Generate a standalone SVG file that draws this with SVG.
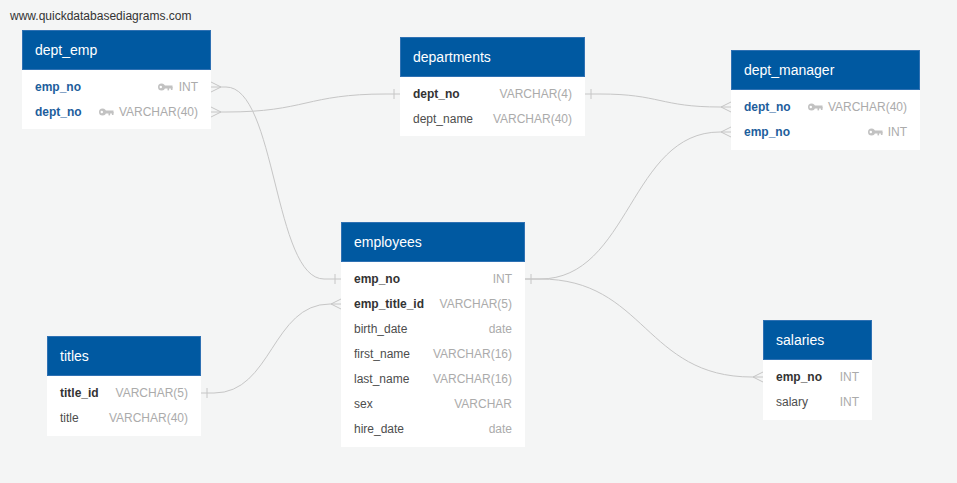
<svg xmlns="http://www.w3.org/2000/svg" width="957" height="483" viewBox="0 0 957 483">
  <style>
    text { font-family: "Liberation Sans", Arial, sans-serif; }
    .wm { font-size: 12px; fill: #333333; }
    .hd { fill: #0059a1; stroke: #2f71b3; stroke-width: 1; }
    .bd { fill: #ffffff; }
    .tt { font-size: 14px; fill: #ffffff; }
    .fk { font-size: 12px; font-weight: bold; fill: #1d5e9c; }
    .pk { font-size: 12px; font-weight: bold; fill: #333333; }
    .fd { font-size: 12px; fill: #4d4d4d; }
    .ty { font-size: 12px; fill: #ababab; text-anchor: end; }
    .ln { fill: none; stroke: #c6c6c6; stroke-width: 1; }
  </style>
  <defs>
    <!-- small key glyph drawn beside key columns -->
    <g id="key">
      <circle cx="3.5" cy="0" r="3.5" fill="#c2c2c2"/>
      <circle cx="2.8" cy="0" r="1.2" fill="#ffffff"/>
      <rect x="6" y="-1.5" width="8.5" height="3" fill="#c2c2c2"/>
      <rect x="9.5" y="0" width="1.6" height="3.4" fill="#c2c2c2"/>
      <rect x="12.9" y="0" width="1.6" height="3" fill="#c2c2c2"/>
    </g>
  </defs>

  <rect width="957" height="483" fill="#f4f5f5"/>
  <text class="wm" x="10" y="20">www.quickdatabasediagrams.com</text>

  <!-- relationships -->
  <g id="connectors">
    <!-- dept_emp.emp_no >- employees.emp_no -->
    <path class="ln" d="M211,87 H226 C276,87 274,279 324,279 H341"/>
    <path class="ln" d="M211,82 L221,87 L211,92"/>
    <path class="ln" d="M335,274 V284"/>
    <!-- dept_emp.dept_no >- departments.dept_no -->
    <path class="ln" d="M211,112 H226 C306,112 306,94 386,94 H400"/>
    <path class="ln" d="M211,107 L221,112 L211,117"/>
    <path class="ln" d="M394,89 V99"/>
    <!-- departments.dept_no -< dept_manager.dept_no -->
    <path class="ln" d="M585,94 H600 C660,94 660,107 720,107 H731"/>
    <path class="ln" d="M591,89 V99"/>
    <path class="ln" d="M731,102 L721,107 L731,112"/>
    <!-- employees.emp_no -< dept_manager.emp_no -->
    <path class="ln" d="M525,279 H540 C630,279 630,132 720,132 H731"/>
    <path class="ln" d="M731,127 L721,132 L731,137"/>
    <!-- employees.emp_no -< salaries.emp_no -->
    <path class="ln" d="M525,279 H540 C645,279 645,377 752,377 H763"/>
    <path class="ln" d="M531,274 V284"/>
    <path class="ln" d="M763,372 L753,377 L763,382"/>
    <!-- titles.title_id -< employees.emp_title_id -->
    <path class="ln" d="M201,393 H214 C272,393 272,304 330,304 H341"/>
    <path class="ln" d="M207,388 V398"/>
    <path class="ln" d="M341,299 L331,304 L341,309"/>
  </g>

  <g id="dept_emp">
    <rect class="bd" x="22" y="70" width="189" height="59"/>
    <rect class="hd" x="22.5" y="30.5" width="188" height="39"/>
    <text class="tt" x="35" y="55">dept_emp</text>
    <text class="fk" x="35" y="91">emp_no</text>
    <use href="#key" x="158" y="87"/>
    <text class="ty" x="198" y="91">INT</text>
    <text class="fk" x="35" y="116">dept_no</text>
    <use href="#key" x="99" y="112"/>
    <text class="ty" x="198" y="116">VARCHAR(40)</text>
  </g>

  <g id="departments">
    <rect class="bd" x="400" y="77" width="185" height="59"/>
    <rect class="hd" x="400.5" y="37.5" width="184" height="39"/>
    <text class="tt" x="413" y="62">departments</text>
    <text class="pk" x="413" y="98">dept_no</text>
    <text class="ty" x="572" y="98">VARCHAR(4)</text>
    <text class="fd" x="413" y="123">dept_name</text>
    <text class="ty" x="572" y="123">VARCHAR(40)</text>
  </g>

  <g id="dept_manager">
    <rect class="bd" x="731" y="90" width="189" height="60"/>
    <rect class="hd" x="731.5" y="50.5" width="188" height="39"/>
    <text class="tt" x="744" y="75">dept_manager</text>
    <text class="fk" x="744" y="111">dept_no</text>
    <use href="#key" x="808" y="107"/>
    <text class="ty" x="907" y="111">VARCHAR(40)</text>
    <text class="fk" x="744" y="136">emp_no</text>
    <use href="#key" x="868" y="132"/>
    <text class="ty" x="907" y="136">INT</text>
  </g>

  <g id="employees">
    <rect class="bd" x="341" y="262" width="184" height="185"/>
    <rect class="hd" x="341.5" y="222.5" width="183" height="39"/>
    <text class="tt" x="354" y="247">employees</text>
    <text class="pk" x="354" y="283">emp_no</text>
    <text class="ty" x="512" y="283">INT</text>
    <text class="pk" x="354" y="308">emp_title_id</text>
    <text class="ty" x="512" y="308">VARCHAR(5)</text>
    <text class="fd" x="354" y="333">birth_date</text>
    <text class="ty" x="512" y="333">date</text>
    <text class="fd" x="354" y="358">first_name</text>
    <text class="ty" x="512" y="358">VARCHAR(16)</text>
    <text class="fd" x="354" y="383">last_name</text>
    <text class="ty" x="512" y="383">VARCHAR(16)</text>
    <text class="fd" x="354" y="408">sex</text>
    <text class="ty" x="512" y="408">VARCHAR</text>
    <text class="fd" x="354" y="433">hire_date</text>
    <text class="ty" x="512" y="433">date</text>
  </g>

  <g id="titles">
    <rect class="bd" x="47" y="376" width="154" height="60"/>
    <rect class="hd" x="47.5" y="336.5" width="153" height="39"/>
    <text class="tt" x="60" y="361">titles</text>
    <text class="pk" x="60" y="397">title_id</text>
    <text class="ty" x="188" y="397">VARCHAR(5)</text>
    <text class="fd" x="60" y="422">title</text>
    <text class="ty" x="188" y="422">VARCHAR(40)</text>
  </g>

  <g id="salaries">
    <rect class="bd" x="763" y="360" width="109" height="60"/>
    <rect class="hd" x="763.5" y="320.5" width="108" height="39"/>
    <text class="tt" x="776" y="345">salaries</text>
    <text class="pk" x="776" y="381">emp_no</text>
    <text class="ty" x="859" y="381">INT</text>
    <text class="fd" x="776" y="406">salary</text>
    <text class="ty" x="859" y="406">INT</text>
  </g>
</svg>
